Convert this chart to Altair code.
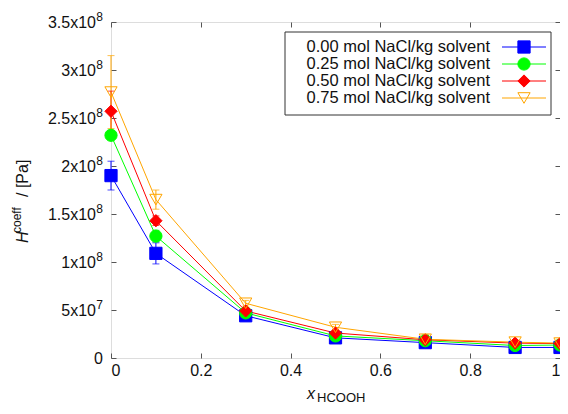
import altair as alt
import pandas as pd

# ---------------- data ----------------
x_frac = [0.0, 0.1, 0.3, 0.5, 0.7, 0.9, 1.0]
series = [
    "0.00 mol NaCl/kg solvent",
    "0.25 mol NaCl/kg solvent",
    "0.50 mol NaCl/kg solvent",
    "0.75 mol NaCl/kg solvent",
]
h_000 = [1.90e8, 1.09e8, 4.4e7, 2.1e7, 1.6e7, 1.1e7, 1.1e7]
e_000 = [1.5e7, 1.1e7, 2.0e6, 1.5e6, 1.5e6, 1.5e6, 1.5e6]
h_025 = [2.32e8, 1.27e8, 4.7e7, 2.3e7, 1.8e7, 1.3e7, 1.35e7]
e_025 = [5.0e6, 6.0e6, 2.0e6, 2.0e6, 2.0e6, 2.0e6, 2.0e6]
h_050 = [2.57e8, 1.43e8, 4.9e7, 2.6e7, 1.9e7, 1.55e7, 1.5e7]
e_050 = [2.1e7, 5.0e6, 3.0e6, 3.0e6, 5.0e6, 2.0e6, 2.0e6]
h_075 = [2.77e8, 1.65e8, 5.7e7, 3.2e7, 1.95e7, 1.65e7, 1.55e7]
e_075 = [3.8e7, 1.0e7, 3.0e6, 3.0e6, 2.0e6, 2.0e6, 2.0e6]

colors = ["#0000ff", "#00ff00", "#ff0000", "#ffa500"]
fills = ["#0000ff", "#00ff00", "#ff0000", "transparent"]
shapes = ["square", "circle", "diamond", "triangle-down"]
sizes = [150, 150, 110, 150]

x_ticks = [0, 0.2, 0.4, 0.6, 0.8, 1.0]
y_ticks = [0, 5e7, 1e8, 1.5e8, 2e8, 2.5e8, 3e8, 3.5e8]
y_base = ["0", "5x10", "1x10", "1.5x10", "2x10", "2.5x10", "3x10", "3.5x10"]
y_sup = ["", "7", "8", "8", "8", "8", "8", "8"]

rows = []
for s, vals, errs in zip(series, [h_000, h_025, h_050, h_075], [e_000, e_025, e_050, e_075]):
    for x, v, e in zip(x_frac, vals, errs):
        rows.append({"series": s, "x": x, "h": v, "lo": v - e, "hi": v + e})
df = pd.DataFrame(rows)
tick_df = pd.DataFrame({"v": y_ticks, "base": y_base, "sup": y_sup})
leg_df = pd.DataFrame({"series": series})
one = pd.DataFrame({"a": [0]})

FONT = "Liberation Sans"
W, H = 449, 336

xs = alt.Scale(domain=[0, 1], nice=False, zero=False)
ys = alt.Scale(domain=[0, 3.5e8], nice=False)
col = alt.Color("series:N", scale=alt.Scale(domain=series, range=colors), legend=None)


def axis(orient, labels):
    return alt.Axis(
        orient=orient, labels=labels, values=(x_ticks if orient in ("top", "bottom") else y_ticks),
        format="~g", offset=-5, tickSize=5, domain=False, grid=False, title=None,
        tickColor="#555", tickWidth=1, labelFont=FONT, labelFontSize=16,
        labelColor="#111", labelPadding=4,
    )


base = alt.Chart(df)
lines = base.mark_line(strokeWidth=1, clip=False).encode(
    x=alt.X("x:Q", scale=xs, axis=axis("bottom", True)),
    y=alt.Y("h:Q", scale=ys, axis=axis("left", False)),
    color=col,
)
bars = base.mark_rule(strokeWidth=1).encode(
    x=alt.X("x:Q", scale=xs, axis=None),
    y=alt.Y("lo:Q", scale=ys, axis=None), y2="hi:Q", color=col,
)
cap_lo = base.mark_tick(orient="horizontal", size=7, thickness=1).encode(
    x=alt.X("x:Q", scale=xs, axis=None), y=alt.Y("lo:Q", scale=ys, axis=None), color=col,
)
cap_hi = base.mark_tick(orient="horizontal", size=7, thickness=1).encode(
    x=alt.X("x:Q", scale=xs, axis=None), y=alt.Y("hi:Q", scale=ys, axis=None), color=col,
)
points = base.mark_point(strokeWidth=1, opacity=1, fillOpacity=1).encode(
    x=alt.X("x:Q", scale=xs, axis=None),
    y=alt.Y("h:Q", scale=ys, axis=None),
    stroke=alt.Stroke("series:N", scale=alt.Scale(domain=series, range=colors), legend=None),
    fill=alt.Fill("series:N", scale=alt.Scale(domain=series, range=fills), legend=None),
    shape=alt.Shape("series:N", scale=alt.Scale(domain=series, range=shapes), legend=None),
    size=alt.Size("series:N", scale=alt.Scale(domain=series, range=sizes), legend=None),
)
mirror = base.mark_point(opacity=0).encode(
    x=alt.X("x:Q", scale=xs, axis=axis("top", False)),
    y=alt.Y("h:Q", scale=ys, axis=axis("right", False)),
)

tb = alt.Chart(tick_df)
ylab = tb.mark_text(align="right", baseline="alphabetic", font=FONT, fontSize=16, color="#111", dy=6).encode(
    x=alt.value(-15), y=alt.Y("v:Q", scale=ys, axis=None), text="base:N"
).transform_filter("datum.sup != ''")
ylab0 = tb.mark_text(align="right", baseline="alphabetic", font=FONT, fontSize=16, color="#111", dy=6).encode(
    x=alt.value(-8), y=alt.Y("v:Q", scale=ys, axis=None), text="base:N"
).transform_filter("datum.sup == ''")
ysup = tb.mark_text(align="right", baseline="alphabetic", font=FONT, fontSize=12, color="#111", dy=-1).encode(
    x=alt.value(-8), y=alt.Y("v:Q", scale=ys, axis=None), text="sup:N"
).transform_filter("datum.sup != ''")

ob = alt.Chart(one)
t_H = ob.mark_text(text="H", angle=270, align="left", baseline="alphabetic", font=FONT, fontSize=16,
                   fontStyle="italic", color="#111").encode(x=alt.value(-83), y=alt.value(221))
t_coeff = ob.mark_text(text="coeff", angle=270, align="left", baseline="alphabetic", font=FONT,
                       fontSize=12, color="#111").encode(x=alt.value(-90), y=alt.value(211))
t_pa = ob.mark_text(text="/ [Pa]", angle=270, align="left", baseline="alphabetic", font=FONT,
                    fontSize=16, color="#111").encode(x=alt.value(-83), y=alt.value(175))
t_x = ob.mark_text(text="x", align="left", baseline="alphabetic", font=FONT, fontSize=16,
                   fontStyle="italic", color="#111").encode(x=alt.value(196), y=alt.value(377))
t_sub = ob.mark_text(text="HCOOH", align="left", baseline="alphabetic", font=FONT, fontSize=13,
                     color="#111").encode(x=alt.value(206), y=alt.value(380))

main = alt.layer(lines, bars, cap_lo, cap_hi, points, mirror, ylab, ylab0, ysup,
                 t_H, t_coeff, t_pa, t_x, t_sub).resolve_axis(x="independent", y="independent")

ly = alt.Y("series:N", scale=alt.Scale(type="point", domain=series, range=[25, 76], padding=0), axis=None)
lb = alt.Chart(leg_df)
box = ob.mark_rect(fill="white", stroke="#333", strokeWidth=1).encode(
    x=alt.value(174), x2=alt.value(440), y=alt.value(10), y2=alt.value(93))
ltext = lb.mark_text(align="right", baseline="middle", font=FONT, fontSize=16.5, color="#111").encode(
    x=alt.value(379), y=ly, text="series:N")
lline = lb.mark_rule(strokeWidth=1).encode(x=alt.value(391), x2=alt.value(435), y=ly, color=col)
lpt = lb.mark_point(strokeWidth=1, opacity=1, fillOpacity=1).encode(
    x=alt.value(413), y=ly,
    stroke=alt.Stroke("series:N", scale=alt.Scale(domain=series, range=colors), legend=None),
    fill=alt.Fill("series:N", scale=alt.Scale(domain=series, range=fills), legend=None),
    shape=alt.Shape("series:N", scale=alt.Scale(domain=series, range=shapes), legend=None),
    size=alt.Size("series:N", scale=alt.Scale(domain=series, range=sizes), legend=None),
)
legend = alt.layer(box, lline, lpt, ltext)

chart = alt.layer(main, legend).resolve_scale(y="independent").properties(
    width=W, height=H,
    autosize=alt.AutoSizeParams(type="none"),
    padding={"left": 103, "top": 14, "right": 0, "bottom": 48},
).configure_view(stroke="#222", strokeWidth=1).configure(background="white")

chart.save("out.html", embed_options={"renderer": "svg", "actions": False})
